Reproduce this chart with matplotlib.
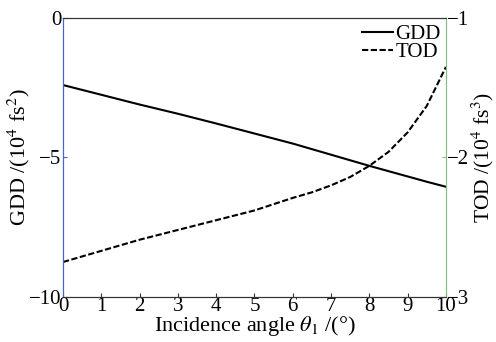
import numpy as np
from matplotlib import pyplot as plt

plt.rcParams['font.family'] = 'Liberation Serif'
plt.rcParams['mathtext.fontset'] = 'stix'

angle = [0, 1, 2, 3, 4, 5, 6, 6.5, 7, 7.5, 8, 8.5, 9, 9.5, 10]
gdd = [-2.40, -2.75, -3.10, -3.43, -3.78, -4.14, -4.50, -4.70, -4.90, -5.10, -5.30, -5.49, -5.68, -5.87, -6.05]
tod = [-2.75, -2.67, -2.59, -2.52, -2.45, -2.38, -2.29, -2.25, -2.20, -2.14, -2.06, -1.96, -1.82, -1.63, -1.35]

fig = plt.figure(figsize=(4.96, 3.42), dpi=100)
ax = fig.add_axes([0.127, 0.132, 0.772, 0.815])
ax2 = ax.twinx()

l1, = ax.plot(angle, gdd, color='black', lw=1.5, label='GDD')
l2, = ax2.plot(angle, tod, color='black', lw=1.5, ls=(0, (3, 1.2)), label='TOD')

ax.set_xlim(0, 10)
ax.set_ylim(-10, 0)
ax2.set_ylim(-3, -1)
ax.set_xticks(range(11))
ax.set_yticks([-10, -5, 0])
ax2.set_yticks([-3, -2, -1])

blue = '#4466cc'
green = '#88bb88'
ax.spines['left'].set_color(blue)
ax2.spines['left'].set_color(blue)
ax2.spines['right'].set_color(green)
ax.spines['right'].set_color(green)
for a in (ax, ax2):
    a.spines['top'].set_color('#333333')
    a.spines['bottom'].set_color('#333333')

fs = 15
ax.tick_params(axis='x', direction='in', length=3, labelsize=fs, pad=0, colors='#333333', labelcolor='black')
ax.tick_params(axis='y', direction='in', length=3, labelsize=fs, pad=1, colors=blue, labelcolor='black')
ax2.tick_params(axis='y', direction='in', length=3, labelsize=fs, pad=1, colors=green, labelcolor='black')

ax.set_xlabel(r'Incidence angle $\theta_1$ /(°)', fontsize=16, labelpad=-1)
ax.set_ylabel(r'GDD /(10$^4$ fs$^2$)', fontsize=16)
ax2.set_ylabel(r'TOD /(10$^4$ fs$^3$)', fontsize=15.5)
ax.yaxis.set_label_coords(-0.08, 0.5)
ax2.yaxis.set_label_coords(1.062, 0.5)

ax.legend([l1, l2], ['GDD', 'TOD'], loc='upper right', bbox_to_anchor=(1.025, 1.03),
          frameon=False, fontsize=fs, handlelength=1.5, handletextpad=0.1,
          labelspacing=-0.05, borderpad=0.2)

fig.savefig('out.png', dpi=100)
